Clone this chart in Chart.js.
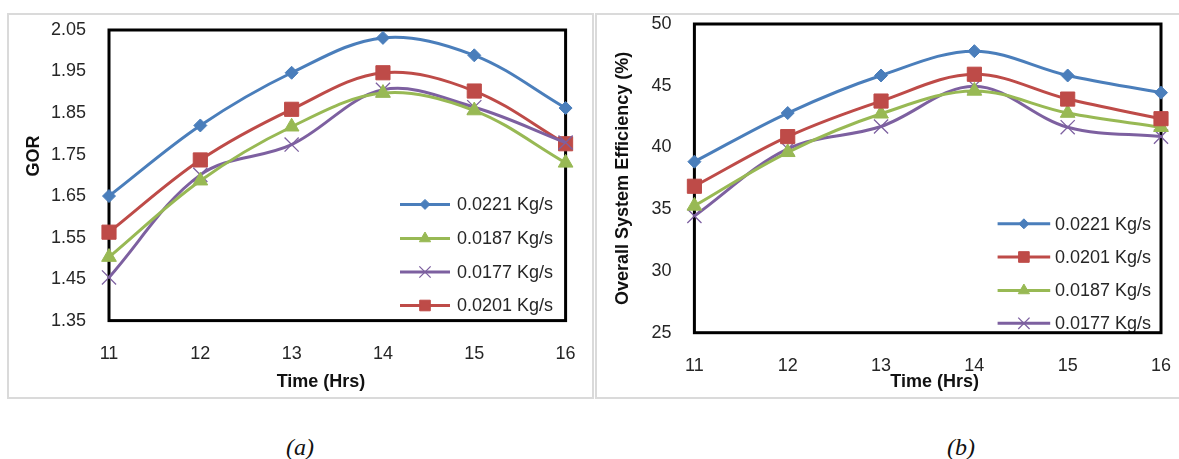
<!DOCTYPE html>
<html><head><meta charset="utf-8">
<script src="https://cdn.jsdelivr.net/npm/chart.js@4.4.1/dist/chart.umd.min.js"></script>
<style>
html,body{margin:0;padding:0;background:#fff;width:1179px;height:459px;overflow:hidden;position:relative;font-family:"Liberation Sans",Arial,sans-serif}
.panel{position:absolute;top:13px;width:583px;height:382px;border:2px solid #dadada;}
#pa{left:7px}
#pb{left:595px}
canvas{display:block}
.cap{position:absolute;top:435px;font-family:"Liberation Serif","Times New Roman",serif;font-style:italic;font-size:24px;line-height:24px;color:#111;width:60px;text-align:center}
</style></head>
<body>
<div class="panel" id="pa"><canvas id="ca" width="583" height="382"></canvas></div>
<div class="panel" id="pb"><canvas id="cb" width="583" height="382"></canvas></div>
<div class="cap" style="left:270px">(a)</div>
<div class="cap" style="left:931px">(b)</div>
<script>
// ---- data ----
const timeLabels = ['11', '12', '13', '14', '15', '16'];
const gor0221 = [1.65, 1.82, 1.947, 2.031, 1.989, 1.862];
const gor0187 = [1.503, 1.687, 1.817, 1.898, 1.856, 1.73];
const gor0177 = [1.454, 1.701, 1.774, 1.906, 1.864, 1.779];
const gor0201 = [1.563, 1.737, 1.859, 1.947, 1.903, 1.776];
const eff0221 = [38.85, 42.79, 45.83, 47.8, 45.83, 44.44];
const eff0201 = [36.86, 40.88, 43.76, 45.93, 43.92, 42.33];
const eff0187 = [35.27, 39.61, 42.73, 44.58, 42.79, 41.64];
const eff0177 = [34.45, 39.88, 41.7, 44.96, 41.64, 40.88];
const gorTicks = [1.35, 1.45, 1.55, 1.65, 1.75, 1.85, 1.95, 2.05];
const effTicks = [25, 30, 35, 40, 45, 50];
const nameA = '0.0221 Kg/s', nameB = '0.0201 Kg/s', nameC = '0.0187 Kg/s', nameD = '0.0177 Kg/s';

// ---- styles ----
const FONT = '"Liberation Sans", Arial, sans-serif';
const TXT = '#262626';
const BLUE = '#4a7ebb', RED = '#be4b48', GREEN = '#98b954', PURPLE = '#7d60a0';
const STY = {
  [nameA]: {color: BLUE, style: 'rectRot', r: 6.5, lr: 5, pbw: 1},
  [nameB]: {color: RED, style: 'rect', r: 10, lr: 7.5, pbw: 1},
  [nameC]: {color: GREEN, style: 'triangle', r: 8.5, lr: 6.5, pbw: 1},
  [nameD]: {color: PURPLE, style: 'crossRot', r: 10, lr: 8, pbw: 1.3}
};

function ds(label, data) {
  const s = STY[label];
  return {label, data, borderColor: s.color, backgroundColor: s.color, borderWidth: 3,
    tension: 0.35, pointStyle: s.style, pointRadius: s.r, pointHoverRadius: s.r,
    pointBackgroundColor: s.color, pointBorderColor: s.color, pointBorderWidth: s.pbw, clip: false};
}

function drawMarker(ctx, style, x, y, r, color, lw) {
  ctx.save();
  ctx.fillStyle = color; ctx.strokeStyle = color; ctx.lineWidth = lw;
  ctx.beginPath();
  if (style === 'rectRot') {
    ctx.moveTo(x, y - r); ctx.lineTo(x + r, y); ctx.lineTo(x, y + r); ctx.lineTo(x - r, y); ctx.closePath();
    ctx.fill(); ctx.stroke();
  } else if (style === 'rect') {
    const s = r * Math.SQRT1_2; ctx.rect(x - s, y - s, 2 * s, 2 * s); ctx.fill(); ctx.stroke();
  } else if (style === 'triangle') {
    const a = 2 * Math.PI / 3;
    ctx.moveTo(x, y - r);
    ctx.lineTo(x + Math.sin(a) * r, y - Math.cos(a) * r);
    ctx.lineTo(x + Math.sin(2 * a) * r, y - Math.cos(2 * a) * r);
    ctx.closePath(); ctx.fill(); ctx.stroke();
  } else if (style === 'crossRot') {
    const o = r * Math.SQRT1_2;
    ctx.moveTo(x - o, y - o); ctx.lineTo(x + o, y + o);
    ctx.moveTo(x + o, y - o); ctx.lineTo(x - o, y + o); ctx.stroke();
  }
  ctx.restore();
}

const framePlugin = {
  id: 'frameAndLegend',
  beforeDatasetsDraw(chart, args, opts) {
    const ctx = chart.ctx;
    const L = opts.legend;
    chart.data.datasets.forEach((d, i) => {
      const s = STY[d.label];
      const y = L.rows[i];
      ctx.save();
      ctx.strokeStyle = s.color; ctx.lineWidth = 3;
      ctx.beginPath(); ctx.moveTo(L.x0, y); ctx.lineTo(L.x1, y); ctx.stroke();
      ctx.restore();
      drawMarker(ctx, s.style, (L.x0 + L.x1) / 2, y, s.lr, s.color, s.pbw);
      ctx.save();
      ctx.fillStyle = TXT; ctx.font = '18px ' + FONT; ctx.textBaseline = 'middle'; ctx.textAlign = 'left';
      ctx.fillText(d.label, L.tx, y + 1);
      ctx.restore();
    });
    const a = chart.chartArea;
    ctx.save();
    ctx.strokeStyle = '#000'; ctx.lineWidth = 3;
    ctx.strokeRect(a.left, a.top, a.right - a.left, a.bottom - a.top);
    ctx.restore();
  },
  afterDraw(chart, args, opts) {
    const ctx = chart.ctx;
    ctx.save();
    ctx.fillStyle = '#111'; ctx.font = 'bold 18px ' + FONT; ctx.textAlign = 'center'; ctx.textBaseline = 'middle';
    ctx.fillText(opts.xTitle.text, opts.xTitle.x, opts.xTitle.y);
    ctx.translate(opts.yTitle.x, opts.yTitle.y); ctx.rotate(-Math.PI / 2);
    ctx.fillText(opts.yTitle.text, 0, 0);
    ctx.restore();
  }
};

function zeroPad(s) { s.paddingTop = 0; s.paddingBottom = 0; s.paddingLeft = 0; s.paddingRight = 0; }

function makeChart(id, datasets, tickVals, decimals, cfg) {
  return new Chart(document.getElementById(id), {
    type: 'line',
    data: {labels: timeLabels, datasets},
    plugins: [framePlugin],
    options: {
      responsive: false, animation: false, events: [],
      layout: {autoPadding: false, padding: {left: 0, top: cfg.top, right: cfg.right, bottom: 0}},
      plugins: {legend: {display: false}, tooltip: {enabled: false},
        frameAndLegend: {legend: cfg.legend, xTitle: cfg.xTitle, yTitle: cfg.yTitle}},
      scales: {
        x: {type: 'category', offset: false,
          grid: {display: false, drawTicks: false}, border: {display: false},
          ticks: {padding: 24, color: TXT, font: {family: FONT, size: 18, lineHeight: 1}, maxRotation: 0, autoSkip: false},
          afterFit: s => { s.height = cfg.xh; zeroPad(s); }},
        y: {min: tickVals[0], max: tickVals[tickVals.length - 1],
          grid: {display: false, drawTicks: false}, border: {display: false},
          afterBuildTicks: s => { s.ticks = tickVals.map(v => ({value: v})); },
          ticks: {padding: 23, color: TXT, font: {family: FONT, size: 18, lineHeight: 1},
            callback: v => Number(v).toFixed(decimals)},
          afterFit: s => { s.width = cfg.yw; zeroPad(s); }}
      }
    }
  });
}

makeChart('ca', [ds(nameA, gor0221), ds(nameC, gor0187), ds(nameD, gor0177), ds(nameB, gor0201)], gorTicks, 2, {
  top: 15, right: 26.4, xh: 76.4, yw: 100,
  legend: {x0: 391, x1: 441, tx: 448, rows: [189.4, 223.5, 257, 290.5]},
  xTitle: {text: 'Time (Hrs)', x: 312, y: 367},
  yTitle: {text: 'GOR', x: 25.5, y: 141}
});

makeChart('cb', [ds(nameA, eff0221), ds(nameB, eff0201), ds(nameC, eff0187), ds(nameD, eff0177)], effTicks, 0, {
  top: 9, right: 19, xh: 64.3, yw: 97.4,
  legend: {x0: 400.6, x1: 453.2, tx: 458, rows: [208.8, 242, 275.5, 308.3]},
  xTitle: {text: 'Time (Hrs)', x: 337.7, y: 367},
  yTitle: {text: 'Overall System Efficiency (%)', x: 26, y: 163.4}
});
</script>
</body></html>
